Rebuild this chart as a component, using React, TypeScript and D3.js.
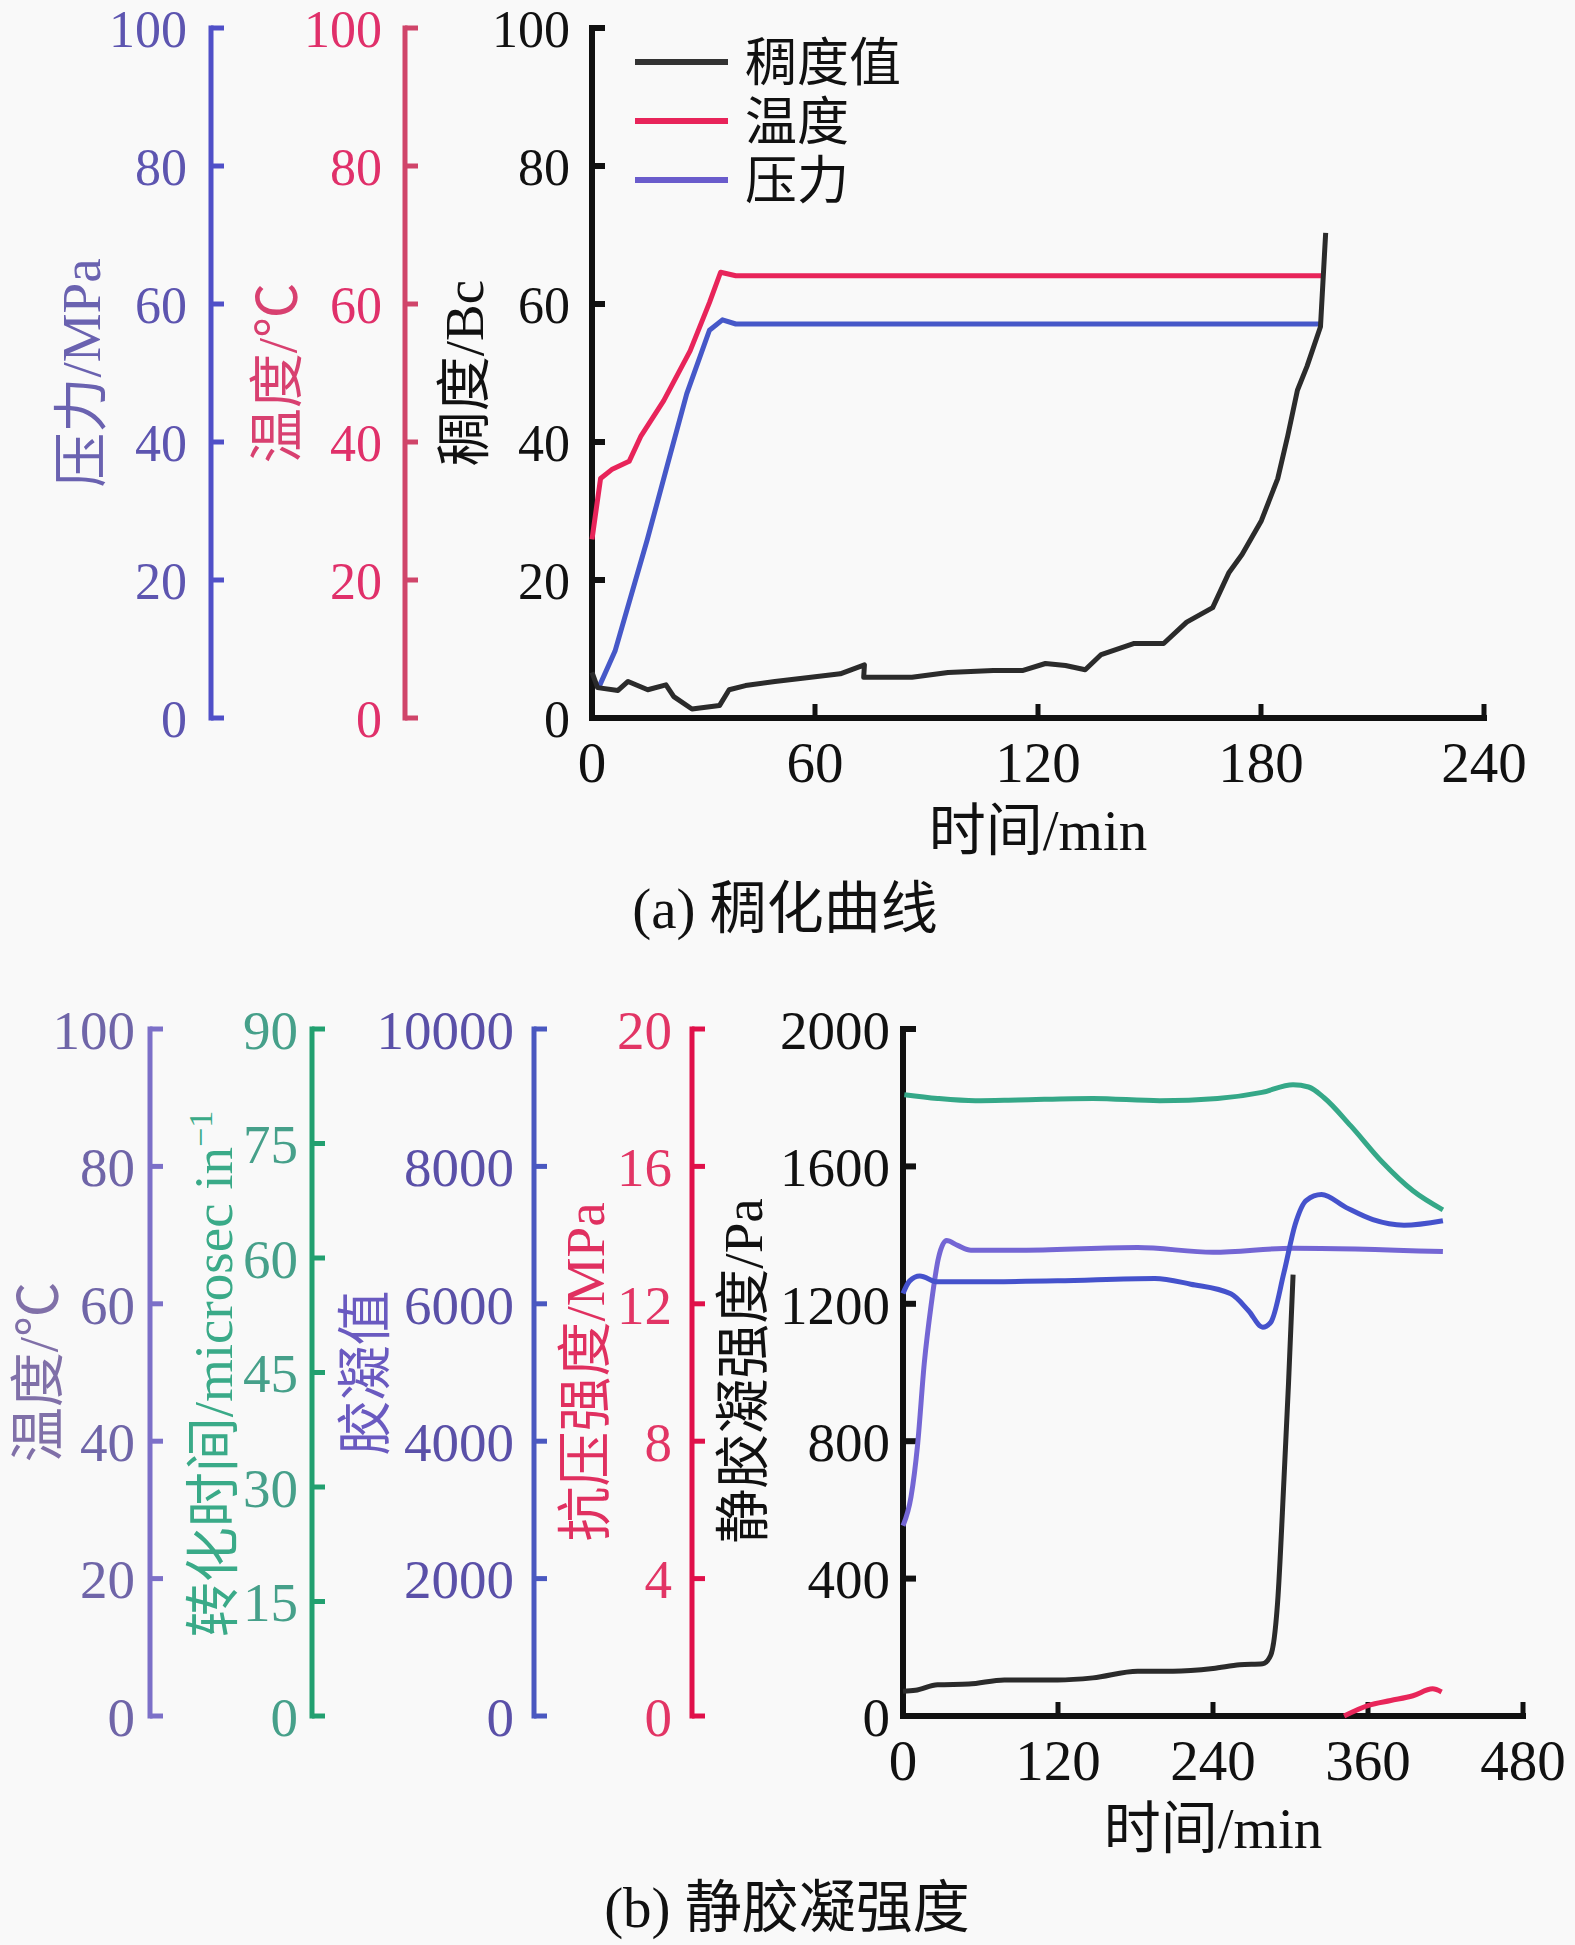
import * as d3 from "d3";

const W = 1575;
const H = 1945;
const FONT = "'Liberation Serif', 'Times New Roman', 'Noto Sans CJK SC', serif";
const BG = "#f9f9f9";

// ---- (a) thickening curve ----
const A_TIME_TICKS = [0, 60, 120, 180, 240];
const A_VALUE_TICKS = [0, 20, 40, 60, 80, 100];

// [time (min), consistency (Bc)]
const consistency: [number, number][] = [
  [0, 6.6], [1.5, 4.4], [7, 4.0], [9.7, 5.3], [15, 4.1], [19.9, 4.8], [22, 3.1],
  [26.9, 1.3], [34.3, 1.8], [36.9, 4.1], [41.3, 4.7], [49.2, 5.3], [58.9, 5.9],
  [66.8, 6.4], [73.3, 7.7], [73.1, 5.9], [86.1, 5.9], [95.8, 6.6], [108, 6.9],
  [116, 6.9], [122, 7.9], [127.4, 7.6], [132.7, 7.0], [137, 9.2], [145.9, 10.8],
  [153.8, 10.8], [160, 13.9], [167, 16.0], [171.4, 21.1], [174.9, 23.7],
  [180.1, 28.6], [184.5, 34.7], [187.2, 40.9], [189.8, 47.5], [192.4, 51.0],
  [196, 56.7], [197.4, 70.3],
];
// [time (min), temperature (°C)]
const temperatureA: [number, number][] = [
  [0, 25.9], [2.3, 34.7], [5.3, 36.0], [10, 37.2], [13.2, 40.9], [19.3, 46.0],
  [26.4, 53.2], [31.6, 60.2], [34.6, 64.6], [38.7, 64.1], [196.5, 64.1],
];
// [time (min), pressure (MPa)]
const pressureA: [number, number][] = [
  [1.8, 4.4], [6.2, 9.7], [14.9, 25.9], [20.2, 36.5], [25.5, 47], [31.6, 56.2],
  [35.1, 57.7], [38.7, 57.1], [196.3, 57.1],
];
const A_LEGEND = ["稠度值", "温度", "压力"];

// ---- (b) static gel strength ----
const B_TIME_TICKS = [0, 120, 240, 360, 480];
const SGS_TICKS = [0, 400, 800, 1200, 1600, 2000];
const TEMP_TICKS = [0, 20, 40, 60, 80, 100];
const TRANSIT_TICKS = [0, 15, 30, 45, 60, 75, 90];
const GEL_TICKS = [0, 2000, 4000, 6000, 8000, 10000];
const STRENGTH_TICKS = [0, 4, 8, 12, 16, 20];

// [time (min), static gel strength (Pa)]
const staticGel: [number, number][] = [
  [0, 72], [9.6, 75], [26.8, 91], [51, 93], [78.4, 105], [119.7, 105], [147, 111],
  [181.6, 130], [209, 130], [240, 138], [260.7, 149], [278.5, 152], [284.7, 177],
  [290, 330], [295, 693], [298.5, 971], [302, 1285],
];
// [time (min), temperature (°C)]
const temperatureB: [number, number][] = [
  [0, 27.7], [6.2, 31.9], [11.3, 39.5], [16.5, 51.4], [21.7, 59.7], [27.5, 66.7],
  [33.7, 69.2], [42.3, 68.5], [52.6, 67.8], [95.6, 67.8], [181.6, 68.2],
  [240, 67.5], [302, 68.1], [418, 67.6],
];
// [time (min), transit time (microsec/in)]
const transitTime: [number, number][] = [
  [1, 81.4], [26.8, 80.9], [56, 80.6], [88.7, 80.7], [147, 80.9], [198.8, 80.6],
  [243.5, 80.9], [277.9, 81.7], [302, 82.7], [314, 82.4], [326, 81.0],
  [346.7, 77.3], [370.8, 72.6], [394.8, 68.8], [418, 66.3],
];
// [time (min), gel value]
const gelValue: [number, number][] = [
  [0, 6150], [5, 6330], [13, 6405], [26.8, 6320], [51, 6320], [119.7, 6335],
  [195, 6370], [222.8, 6285], [253.8, 6145], [267.5, 5900], [278.5, 5660],
  [284.7, 5730], [295, 6460], [303.6, 7155], [312.2, 7505], [324, 7590],
  [343.2, 7400], [363.8, 7225], [387.9, 7145], [418, 7210],
];
// [time (min), compressive strength (MPa)]
const compressive: [number, number][] = [
  [341.5, 0], [360.4, 0.31], [377.6, 0.45], [394.8, 0.59], [410, 0.79], [417, 0.7],
];

const A_BOX = { x0: 592, x1: 1484, top: 28, bottom: 718 };
const B_BOX = { x0: 903, x1: 1523, top: 1029, bottom: 1716 };

type Scale = d3.ScaleLinear<number, number>;

function YAxis({ x, scale, ticks, stroke, fill, gap = 22, sw = 5, fs = 55 }: {
  x: number; scale: Scale; ticks: number[]; stroke: string; fill: string; gap?: number; sw?: number; fs?: number;
}) {
  const [y0, y1] = scale.range();
  return (
    <g>
      <line x1={x} x2={x} y1={y0 + sw / 2} y2={y1 - sw / 2} stroke={stroke} strokeWidth={sw} />
      {ticks.map((t) => (
        <line key={`t${t}`} x1={x} x2={x + 13} y1={scale(t)} y2={scale(t)} stroke={stroke} strokeWidth={sw} />
      ))}
      {ticks.map((t) => (
        <text key={`l${t}`} x={x - gap} y={scale(t)} dy="0.36em" textAnchor="end" fill={fill} fontSize={fs}>
          {t}
        </text>
      ))}
    </g>
  );
}

function XAxis({ y, scale, ticks }: { y: number; scale: Scale; ticks: number[] }) {
  const [x0, x1] = scale.range();
  return (
    <g>
      <line x1={x0 - 3} x2={x1 + 3} y1={y} y2={y} stroke="#111" strokeWidth={6} />
      {ticks.map((t) => (
        <line key={`t${t}`} x1={scale(t)} x2={scale(t)} y1={y} y2={y - 14} stroke="#111" strokeWidth={5} />
      ))}
      {ticks.map((t) => (
        <text key={`l${t}`} x={scale(t)} y={y + 64} textAnchor="middle" fill="#111" fontSize={57}>
          {t}
        </text>
      ))}
    </g>
  );
}

function VTitle({ cx, cy, fill, children }: { cx: number; cy: number; fill: string; children: React.ReactNode }) {
  return (
    <text
      transform={`translate(${cx},${cy}) rotate(-90)`}
      textAnchor="middle"
      dy="0.36em"
      fill={fill}
      fontSize={55}
    >
      {children}
    </text>
  );
}

export default function App() {
  // panel a scales
  const xA = d3.scaleLinear().domain([0, 240]).range([A_BOX.x0, A_BOX.x1]);
  const yA = d3.scaleLinear().domain([0, 100]).range([A_BOX.bottom, A_BOX.top]);
  const lineA = d3.line<[number, number]>().x((d) => xA(d[0])).y((d) => yA(d[1]));

  // panel b scales
  const xB = d3.scaleLinear().domain([0, 480]).range([B_BOX.x0, B_BOX.x1]);
  const yRange: [number, number] = [B_BOX.bottom, B_BOX.top];
  const ySgs = d3.scaleLinear().domain([0, 2000]).range(yRange);
  const yTemp = d3.scaleLinear().domain([0, 100]).range(yRange);
  const yTransit = d3.scaleLinear().domain([0, 90]).range(yRange);
  const yGel = d3.scaleLinear().domain([0, 10000]).range(yRange);
  const yStrength = d3.scaleLinear().domain([0, 20]).range(yRange);
  const lineB = (ys: Scale) =>
    d3.line<[number, number]>().x((d) => xB(d[0])).y((d) => ys(d[1])).curve(d3.curveMonotoneX);

  const legendColors = ["#333333", "#e8245a", "#6a5ccc"];
  const LW = 5;

  return (
    <div style={{ position: "absolute", left: 0, top: 0 }}>
      <svg width={W} height={H} viewBox={`0 0 ${W} ${H}`} fontFamily={FONT} style={{ display: "block" }}>
        <rect width={W} height={H} fill={BG} />

        {/* ---------- (a) ---------- */}
        <YAxis x={211} scale={yA} ticks={A_VALUE_TICKS} stroke="#5050c8" fill="#5d55b0" gap={24} fs={52} />
        <YAxis x={405} scale={yA} ticks={A_VALUE_TICKS} stroke="#d0456a" fill="#e0306a" gap={23} fs={52} />
        <YAxis x={A_BOX.x0} scale={yA} ticks={A_VALUE_TICKS} stroke="#111" fill="#111" gap={22} sw={6} fs={52} />
        <XAxis y={A_BOX.bottom} scale={xA} ticks={A_TIME_TICKS} />
        <VTitle cx={80} cy={373} fill="#6a62b0">压力/MPa</VTitle>
        <VTitle cx={276} cy={373} fill="#d84070">温度/℃</VTitle>
        <VTitle cx={463} cy={373} fill="#111">稠度/Bc</VTitle>

        <path d={lineA(temperatureA) ?? ""} fill="none" stroke="#e8245a" strokeWidth={LW} strokeLinejoin="round" />
        <path d={lineA(pressureA) ?? ""} fill="none" stroke="#4658c8" strokeWidth={LW} strokeLinejoin="round" />
        <path d={lineA(consistency) ?? ""} fill="none" stroke="#2b2b2b" strokeWidth={LW} strokeLinejoin="round" />

        {A_LEGEND.map((name, i) => (
          <g key={name} transform={`translate(0,${62 + i * 59})`}>
            <line x1={635} x2={728} y1={0} y2={0} stroke={legendColors[i]} strokeWidth={6} />
            <text x={745} y={0} dy="0.36em" fill="#111" fontSize={52}>
              {name}
            </text>
          </g>
        ))}
        <text x={xA(120)} y={A_BOX.bottom + 111} dy="0.36em" textAnchor="middle" fill="#111" fontSize={57}>
          时间/min
        </text>
        <text x={785} y={907} dy="0.36em" textAnchor="middle" fill="#111" fontSize={57}>
          (a) 稠化曲线
        </text>

        {/* ---------- (b) ---------- */}
        <YAxis x={150} scale={yTemp} ticks={TEMP_TICKS} stroke="#7c70c8" fill="#6f65a8" gap={15} />
        <YAxis x={312} scale={yTransit} ticks={TRANSIT_TICKS} stroke="#22a070" fill="#46a08a" gap={14} />
        <YAxis x={534} scale={yGel} ticks={GEL_TICKS} stroke="#4a58c0" fill="#5a50a8" gap={20} />
        <YAxis x={692} scale={yStrength} ticks={STRENGTH_TICKS} stroke="#e0104a" fill="#e23565" gap={20} />
        <YAxis x={B_BOX.x0} scale={ySgs} ticks={SGS_TICKS} stroke="#111" fill="#111" gap={13} sw={6} />
        <XAxis y={B_BOX.bottom} scale={xB} ticks={B_TIME_TICKS} />
        <VTitle cx={37} cy={1372} fill="#8070a8">温度/℃</VTitle>
        <VTitle cx={212} cy={1374} fill="#3aaa88">
          转化时间/microsec in
          <tspan dy={-20} fontSize={34}>−1</tspan>
        </VTitle>
        <VTitle cx={364} cy={1373} fill="#6a5ac0">胶凝值</VTitle>
        <VTitle cx={584} cy={1372} fill="#e03060">抗压强度/MPa</VTitle>
        <VTitle cx={742} cy={1371} fill="#111">静胶凝强度/Pa</VTitle>

        <path d={lineB(yTransit)(transitTime) ?? ""} fill="none" stroke="#35a888" strokeWidth={LW} />
        <path d={lineB(yTemp)(temperatureB) ?? ""} fill="none" stroke="#7466d4" strokeWidth={LW} />
        <path d={lineB(yGel)(gelValue) ?? ""} fill="none" stroke="#4552cc" strokeWidth={LW} />
        <path d={lineB(ySgs)(staticGel) ?? ""} fill="none" stroke="#2b2b2b" strokeWidth={LW} />
        <path d={lineB(yStrength)(compressive) ?? ""} fill="none" stroke="#e8265a" strokeWidth={LW} />

        <text x={xB(240)} y={B_BOX.bottom + 111} dy="0.36em" textAnchor="middle" fill="#111" fontSize={57}>
          时间/min
        </text>
        <text x={787} y={1906} dy="0.36em" textAnchor="middle" fill="#111" fontSize={57}>
          (b) 静胶凝强度
        </text>
      </svg>
    </div>
  );
}
